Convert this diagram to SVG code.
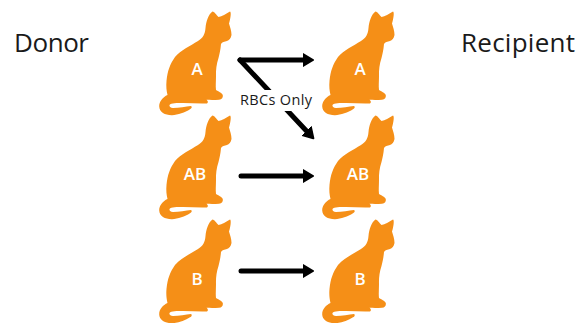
<svg xmlns="http://www.w3.org/2000/svg" width="582" height="323" viewBox="0 0 582 323">
<style>
.cat{fill:#f58f17}
.t{font-family:"Open Sans","Noto Sans",sans-serif;fill:#1a1a1a}
.head{font-size:26px}
.blood{font-family:"Open Sans","Noto Sans",sans-serif;font-size:17px;font-weight:600;fill:#fff;text-anchor:middle}
.arrow{stroke:#000;stroke-width:5;fill:none;stroke-linecap:round;stroke-linejoin:round;marker-end:url(#head)}
</style>
<defs>
<marker id="head" viewBox="0 -8 12 16" refX="0" refY="0" markerWidth="12" markerHeight="16" markerUnits="userSpaceOnUse" orient="auto"><path d="M0 -6L10 0L0 6Z" fill="#000" stroke="#000" stroke-width="2" stroke-linejoin="round"/></marker>
<path id="cat" d="M212.500 11.500C214.500 11.500 216.500 15.500 218.500 17C222 16.500 226 14 230 11.500C231.500 12 230.500 19 229 23.500C230 27 231.500 31 231.500 35C231 38 229 40.500 227 41C224.500 41.500 222 42 221 44C220.500 50 219.500 54 218.500 58C216.500 64 215.800 70 216 76C216 81 215.500 86 216 90C218 91.500 222 92.500 222.800 95C223.200 97.500 222 99.500 219 99.700C215 100 210.500 100 206.500 99.800C208 101 208.500 102.500 207 103.500C199 103.800 191 103.200 183 103C177 103 171 103 169.500 105C169 106.500 170.500 108 173 108C179 108 186 106.500 191 106C192.500 107 191.500 108.500 190 109.300C185 112.500 178 115 172 115.200C165 115.300 159.500 112 159.200 106.500C159 101.500 163 97 167.500 95C166.500 91 166 86 166.500 81C167.500 71 170 64 175 57C181 50 190 46 198 41C203 38 205 34 205.500 28C206 22 208.500 14 212.500 11.500Z"/>
</defs>
<g id="connectors">
<path class="arrow" d="M240 60H303"/>
<path class="arrow" d="M240 60L306.500 131"/>
<path class="arrow" d="M241 176H303"/>
<path class="arrow" d="M241 271H303"/>
</g>
<g id="label-rbcs"><rect x="239" y="90" width="74" height="21" fill="#fff"/><text class="t" x="240" y="105" font-size="14.500" textLength="72">RBCs Only</text></g>
<g id="label-donor"><text class="t head" x="14" y="52" textLength="75">Donor</text></g>
<g id="label-recipient"><text class="t head" x="461" y="52" textLength="114">Recipient</text></g>
<g id="donor-a"><use href="#cat" class="cat"/><text class="blood" x="197" y="75">A</text></g>
<g id="donor-ab"><use href="#cat" class="cat" y="104"/><text class="blood" x="195" y="180">AB</text></g>
<g id="donor-b"><use href="#cat" class="cat" y="208"/><text class="blood" x="197" y="285">B</text></g>
<g id="recipient-a"><use href="#cat" class="cat" x="163"/><text class="blood" x="360" y="75">A</text></g>
<g id="recipient-ab"><use href="#cat" class="cat" x="163" y="104"/><text class="blood" x="358" y="180">AB</text></g>
<g id="recipient-b"><use href="#cat" class="cat" x="163" y="208"/><text class="blood" x="360" y="285">B</text></g>
</svg>
